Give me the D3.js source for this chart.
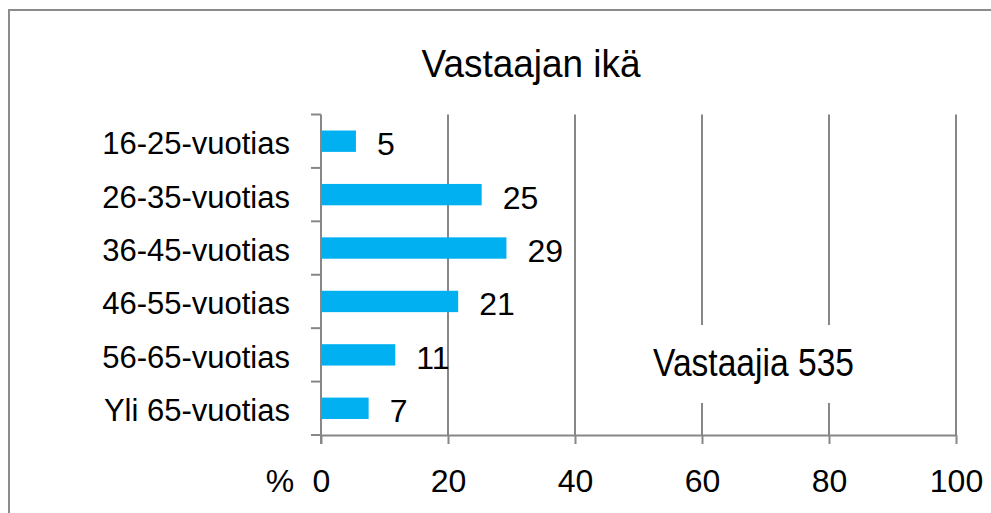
<!DOCTYPE html>
<html>
<head>
<meta charset="utf-8">
<script src="https://cdn.jsdelivr.net/npm/d3@7"></script>
<style>
  body { margin: 0; background: #fff; }
  svg text { font-family: "Liberation Sans", Arial, sans-serif; fill: #000; }
</style>
</head>
<body>
<div id="chart"></div>
<script>
// data
var categories = ["16-25-vuotias", "26-35-vuotias", "36-45-vuotias", "46-55-vuotias", "56-65-vuotias", "Yli 65-vuotias"];
var values = [5.5, 25.3, 29.2, 21.6, 11.7, 7.5];
var valueLabels = ["5", "25", "29", "21", "11", "7"];
var xTicks = [0, 20, 40, 60, 80, 100];
var title = "Vastaajan ikä";
var note = "Vastaajia 535";

var width = 991, height = 513;
var plotLeft = 321, plotRight = 956, plotTop = 114.5, plotBottom = 435;
var axisColor = "#878787";

var svg = d3.select("#chart").append("svg")
    .attr("width", width)
    .attr("height", height);

// outer chart border (right and bottom are cut off in the original)
svg.append("rect")
    .attr("x", 9).attr("y", 10)
    .attr("width", 1100).attr("height", 600)
    .attr("fill", "none")
    .attr("stroke", "#8c8c8c")
    .attr("stroke-width", 2);

svg.append("text")
    .attr("x", 531).attr("y", 77)
    .attr("text-anchor", "middle")
    .style("font-size", "38px")
    .attr("textLength", 219)
    .attr("lengthAdjust", "spacingAndGlyphs")
    .text(title);

var x = d3.scaleLinear().domain([0, 100]).range([plotLeft, plotRight]);
var y = d3.scaleBand().domain(categories).range([plotTop, plotBottom]);

// vertical gridlines
svg.append("g").selectAll("line")
    .data(xTicks.slice(1))
    .enter().append("line")
    .attr("x1", function(d) { return x(d); })
    .attr("x2", function(d) { return x(d); })
    .attr("y1", plotTop).attr("y2", plotBottom)
    .attr("stroke", axisColor)
    .attr("stroke-width", 2);

// white box behind the respondent count
svg.append("rect")
    .attr("x", 640).attr("y", 325)
    .attr("width", 230).attr("height", 78)
    .attr("fill", "#fff");

svg.append("text")
    .attr("x", 653).attr("y", 376)
    .style("font-size", "38px")
    .attr("textLength", 201)
    .attr("lengthAdjust", "spacingAndGlyphs")
    .text(note);

// bars
svg.append("g").selectAll("rect")
    .data(values)
    .enter().append("rect")
    .attr("x", x(0) + 1)
    .attr("y", function(d, i) { return y(categories[i]) + y.bandwidth() * 0.3; })
    .attr("width", function(d) { return x(d) - x(0) - 1; })
    .attr("height", y.bandwidth() * 0.4)
    .attr("fill", "#00B0F0");

// value labels
svg.append("g").selectAll("text")
    .data(values)
    .enter().append("text")
    .attr("x", function(d) { return x(d) + 21; })
    .attr("y", function(d, i) { return y(categories[i]) + y.bandwidth() / 2 + 14; })
    .style("font-size", "32px")
    .text(function(d, i) { return valueLabels[i]; });

// x axis
var xAxis = svg.append("g")
    .attr("transform", "translate(0," + plotBottom + ")")
    .call(d3.axisBottom(x).tickValues(xTicks).tickSize(9).tickSizeOuter(0).tickPadding(0));
xAxis.select(".domain").attr("stroke", axisColor).attr("stroke-width", 2);
xAxis.selectAll(".tick line").attr("stroke", axisColor).attr("stroke-width", 2);
xAxis.selectAll(".tick text")
    .attr("y", 57).attr("dy", 0)
    .style("font-size", "32px")
    .style("font-family", "'Liberation Sans', Arial, sans-serif");

svg.append("text")
    .attr("x", 280).attr("y", plotBottom + 57)
    .attr("text-anchor", "middle")
    .style("font-size", "32px")
    .text("%");

// y axis: line plus ticks at band boundaries
var yAxis = svg.append("g");
yAxis.append("line")
    .attr("x1", plotLeft).attr("x2", plotLeft)
    .attr("y1", plotTop).attr("y2", plotBottom + 9)
    .attr("stroke", axisColor).attr("stroke-width", 2);
var bounds = categories.map(function(c) { return y(c); }).concat([plotBottom]);
yAxis.selectAll(".ytick")
    .data(bounds)
    .enter().append("line")
    .attr("class", "ytick")
    .attr("x1", plotLeft - 10).attr("x2", plotLeft)
    .attr("y1", function(d) { return d; })
    .attr("y2", function(d) { return d; })
    .attr("stroke", axisColor).attr("stroke-width", 2);

yAxis.selectAll(".ylabel")
    .data(categories)
    .enter().append("text")
    .attr("class", "ylabel")
    .attr("x", 290)
    .attr("y", function(d) { return y(d) + y.bandwidth() / 2 + 13; })
    .attr("text-anchor", "end")
    .style("font-size", "31px")
    .text(function(d) { return d; });
</script>
</body>
</html>
